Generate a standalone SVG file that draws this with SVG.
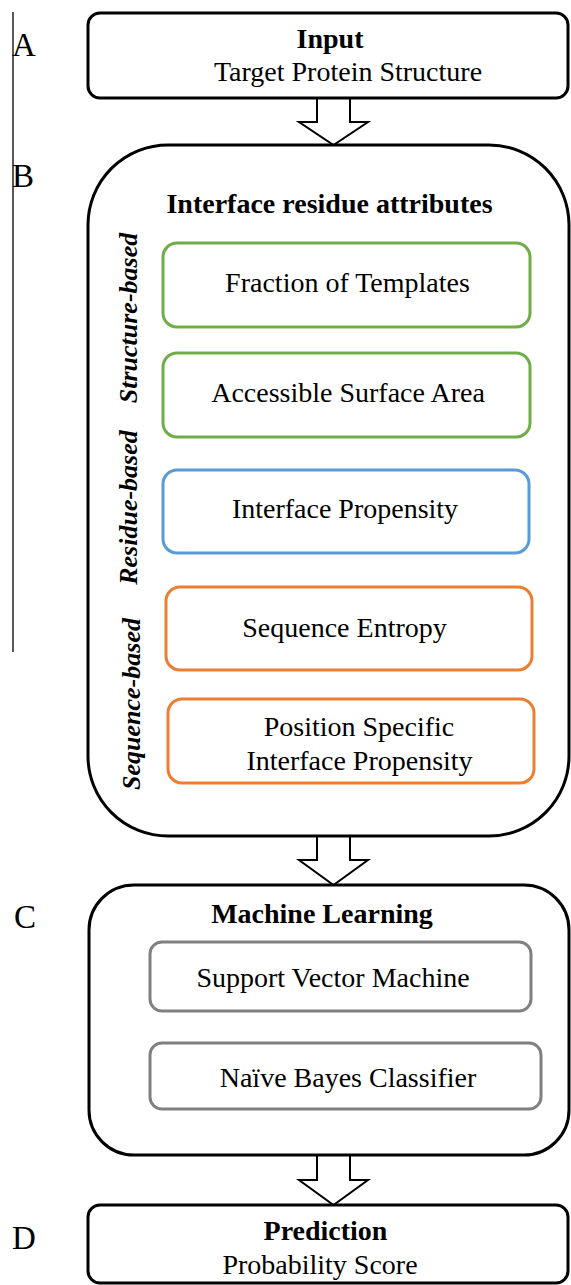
<svg xmlns="http://www.w3.org/2000/svg" width="571" height="1285" viewBox="0 0 571 1285">
  <style>
    text { font-family: "Liberation Serif", "Times New Roman", serif; fill: #000; }
    .lbl { font-size: 33px; }
    .title { font-size: 28px; font-weight: bold; text-anchor: middle; }
    .body { font-size: 28px; text-anchor: middle; }
    .side { font-size: 26px; font-weight: bold; font-style: italic; text-anchor: middle; }
    .outer { fill: #fff; stroke: #000; stroke-width: 3; }
    .green { fill: #fff; stroke: #70ad47; stroke-width: 3; }
    .blue { fill: #fff; stroke: #5b9bd5; stroke-width: 3; }
    .orange { fill: #fff; stroke: #ed7d31; stroke-width: 3; }
    .gray { fill: #fff; stroke: #808080; stroke-width: 3; }
    .blockarrow { fill: #fff; stroke: #000; stroke-width: 2; stroke-linejoin: miter; }
  </style>

  <!-- panel letters and left rule -->
  <line x1="13" y1="12" x2="13" y2="652" stroke="#222" stroke-width="1.5"/>
  <text class="lbl" x="12" y="56">A</text>
  <text class="lbl" x="12" y="187">B</text>
  <text class="lbl" x="14" y="928">C</text>
  <text class="lbl" x="12" y="1249">D</text>

  <!-- block arrows between stages -->
  <g id="connectors">
    <path class="blockarrow" d="M317,98 V122 H299 L333.5,145 L368,122 H350 V98"/>
    <path class="blockarrow" d="M317,836 V860 H299 L333.5,885 L368,860 H350 V836"/>
    <path class="blockarrow" d="M317,1155 V1180 H299 L333.5,1205 L368,1180 H350 V1155"/>
  </g>

  <g id="input">
    <rect class="outer" x="88" y="13" width="480" height="85" rx="12"/>
    <text class="title" x="330" y="48">Input</text>
    <text class="body" x="348" y="81" font-size="26">Target Protein Structure</text>
  </g>

  <g id="attributes">
    <rect class="outer" x="88" y="145" width="481" height="691" rx="80"/>
    <text class="title" x="329.5" y="213">Interface residue attributes</text>
    <text class="side" transform="translate(137,318) rotate(-90)">Structure-based</text>
    <text class="side" transform="translate(137,507.5) rotate(-90)">Residue-based</text>
    <text class="side" transform="translate(140,704) rotate(-90)">Sequence-based</text>
  </g>

  <g id="fraction-templates">
    <rect class="green" x="163" y="243" width="367" height="84" rx="14"/>
    <text class="body" x="347.5" y="292">Fraction of Templates</text>
  </g>
  <g id="surface-area">
    <rect class="green" x="163" y="353" width="367" height="84" rx="14"/>
    <text class="body" x="348" y="402">Accessible Surface Area</text>
  </g>
  <g id="interface-propensity">
    <rect class="blue" x="163" y="470" width="366" height="83" rx="14"/>
    <text class="body" x="345" y="518">Interface Propensity</text>
  </g>
  <g id="sequence-entropy">
    <rect class="orange" x="166" y="587" width="366" height="83" rx="14"/>
    <text class="body" x="344.5" y="637">Sequence Entropy</text>
  </g>
  <g id="ps-interface-propensity">
    <rect class="orange" x="168" y="699" width="366" height="84" rx="14"/>
    <text class="body" x="359" y="736">Position Specific</text>
    <text class="body" x="359.5" y="770">Interface Propensity</text>
  </g>

  <g id="machine-learning">
    <rect class="outer" x="89" y="885" width="480" height="270" rx="45"/>
    <text class="title" x="322" y="923">Machine Learning</text>
  </g>
  <g id="svm">
    <rect class="gray" x="150" y="942" width="381" height="69" rx="12"/>
    <text class="body" x="333" y="987">Support Vector Machine</text>
  </g>
  <g id="naive-bayes">
    <rect class="gray" x="150" y="1043" width="391" height="66" rx="12"/>
    <text class="body" x="348" y="1087">Naïve Bayes Classifier</text>
  </g>

  <g id="prediction">
    <rect class="outer" x="88" y="1205" width="480" height="78" rx="12"/>
    <text class="title" x="325.5" y="1240">Prediction</text>
    <text class="body" x="320" y="1274">Probability Score</text>
  </g>
</svg>
